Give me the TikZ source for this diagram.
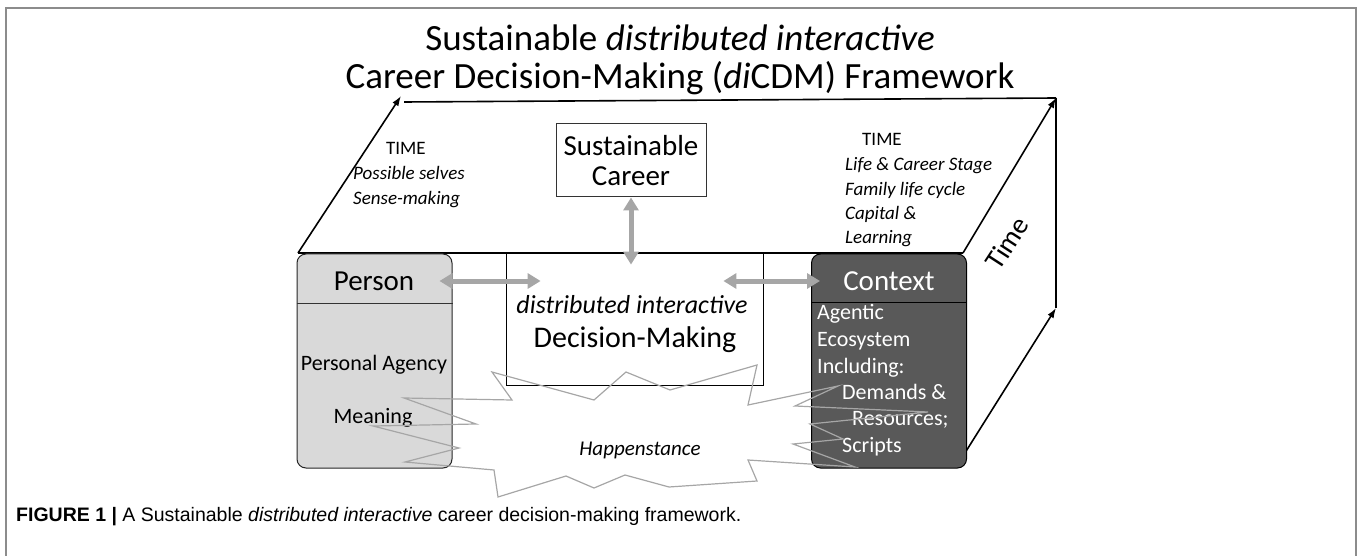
\documentclass[tikz,border=0pt]{standalone}
\usepackage{fontspec}
\setmainfont{Carlito}
\newfontfamily\captionfont{Liberation Sans}
\usetikzlibrary{positioning,calc,arrows.meta}

\definecolor{personfill}{HTML}{D9D9D9}
\definecolor{contextfill}{HTML}{595959}
\definecolor{linkgray}{HTML}{A6A6A6}
\definecolor{framegray}{HTML}{8C8C8C}

% font size in bp, with baseline skip
\newcommand{\fs}[2]{\fontsize{#1bp}{#2bp}\selectfont}

\begin{document}
\begin{tikzpicture}[x=1bp, y=-1bp,
        cube/.style={draw, line width=1.6bp},
        timearrow/.style={cube, -{Latex[length=10bp,width=7bp]}},
        link/.style={draw=linkgray, line width=5bp, {Triangle[length=13bp,width=15bp]}-{Triangle[length=13bp,width=15bp]}},
        panel/.style={rectangle, rounded corners=9bp, draw=black!85, line width=1bp, minimum width=155bp, minimum height=214bp},
        txt/.style={inner sep=0pt},
        topnote/.style={inner sep=0pt, anchor=mid west, font=\fs{19}{23}},
        chance/.style={draw=linkgray, line width=1.2bp}]

        \useasboundingbox (0,0) rectangle (1358,556);
        \draw[framegray, line width=1.5bp] (6,556) -- (6,8) -- (1356,8) -- (1356,556);

        \node[align=center, font=\fs{37}{38}] (title) at (680,60)
            {Sustainable \textit{distributed interactive}\\Career Decision-Making (\textit{di}CDM) Framework};

        % corners of the box
        \coordinate (flt) at (298,253);
        \coordinate (frt) at (963,253);
        \coordinate (blt) at (401,96);
        \coordinate (brt) at (1056,98);
        \coordinate (brb) at (1056,308);
        \coordinate (frb) at (963,456);

        \draw[cube] (flt) -- (frt);
        \draw[cube] ([xshift=3bp,yshift=-6bp]blt) -- (brt);
        \draw[cube] (brt) -- (brb);
        \draw[timearrow] (flt) -- (blt);
        \draw[timearrow] (frt) -- (brt);
        \draw[timearrow] (frb) -- (brb);

        % top face
        \node[topnote] (timeleft) at (386,152) {TIME};
        \node[topnote, font=\fs{19}{23}\itshape] (selves) at (353,177) {Possible selves};
        \node[topnote, font=\fs{19}{23}\itshape] (sense) at (353,202) {Sense-making};

        \node[topnote] (timeright) at (862,143) {TIME};
        \node[topnote, font=\fs{19}{23}\itshape] (stage) at (845,168) {Life \& Career Stage};
        \node[topnote, font=\fs{19}{23}\itshape] (family) at (845,193) {Family life cycle};
        \node[topnote, font=\fs{19}{23}\itshape] (capital) at (845,217) {Capital \&};
        \node[topnote, font=\fs{19}{23}\itshape] (learning) at (845,241) {Learning};

        \node[txt, rotate=57, font=\fs{28}{34}] (timeaxis) at (1007,243) {Time};

        \node[draw=black!80, line width=1bp, minimum width=150bp, minimum height=73bp,
              align=center, font=\fs{29}{30}] (career) at (631,160.5) {Sustainable\\Career};

        \node[draw, line width=0.8bp, minimum width=257bp, minimum height=132bp] (decision) at (634.5,319) {};
        \node[txt, font=\fs{26}{30}\itshape] (distributed) at (632,305) {distributed interactive};
        \node[txt, font=\fs{30}{36}] (making) at (635,340) {Decision-Making};

        % person
        \node[panel, fill=personfill] (person) at (374.5,361) {};
        \draw[line width=1.4bp, black!80] ([yshift=-50bp]person.north west) -- ([yshift=-50bp]person.north east);
        \node[txt, font=\fs{29}{35}] (persontitle) at (374,281) {Person};
        \node[txt, font=\fs{22}{26}] (agency) at (374,365) {Personal Agency};
        \node[txt, font=\fs{22}{26}] (meaning) at (373,418) {Meaning};

        % context
        \node[panel, fill=contextfill, draw=black] (context) at (889,361) {};
        \draw[line width=1.4bp] ([yshift=-49bp]context.north west) -- ([yshift=-49bp]context.north east);
        \node[txt, text=white, font=\fs{29}{35}] (contexttitle) at (889,281) {Context};
        \foreach \entry/\xx/\yy in {Agentic/817/317, Ecosystem/817/344, Including:/817/371,
                Demands \&/842/397, Resources;/852/423, Scripts/842/450}
            \node[txt, anchor=mid west, text=white, font=\fs{22}{26}] at (\xx,\yy) {\entry};

        % links
        \draw[link] ($(person.east |- persontitle)+(-13,0)$) -- ($(decision.west |- persontitle)+(35,0)$);
        \draw[link] ($(decision.east |- contexttitle)+(-40,0)$) -- ($(context.west |- contexttitle)+(9,0)$);
        \draw[link] (career.south) -- ($(career.south |- decision.north)+(0,12)$);

        % happenstance
        \draw[chance] (492,372) -- (594,400) -- (626,372) -- (670,390) -- (757,365) -- (748,405)
            -- (838,386) -- (795,406) -- (928,412) -- (810,424) -- (843,439) -- (793,444)
            -- (855,467) -- (748,460) -- (757,481) -- (669,487) -- (625,475) -- (594,488)
            -- (566,476) -- (498,497) -- (494,470) -- (405,462) -- (459,448) -- (373,426)
            -- (476,424) -- (404,398) -- (512,400) -- cycle;
        \node[txt, font=\fs{21}{25}\itshape] (chance) at (640,450) {Happenstance};

        \node[anchor=base west, inner sep=0pt, font=\captionfont\fs{19.5}{23}] (caption) at (16,521)
            {\textbf{FIGURE 1 |} A Sustainable \textit{distributed interactive} career decision-making framework.};

    \end{tikzpicture}
\end{document}
